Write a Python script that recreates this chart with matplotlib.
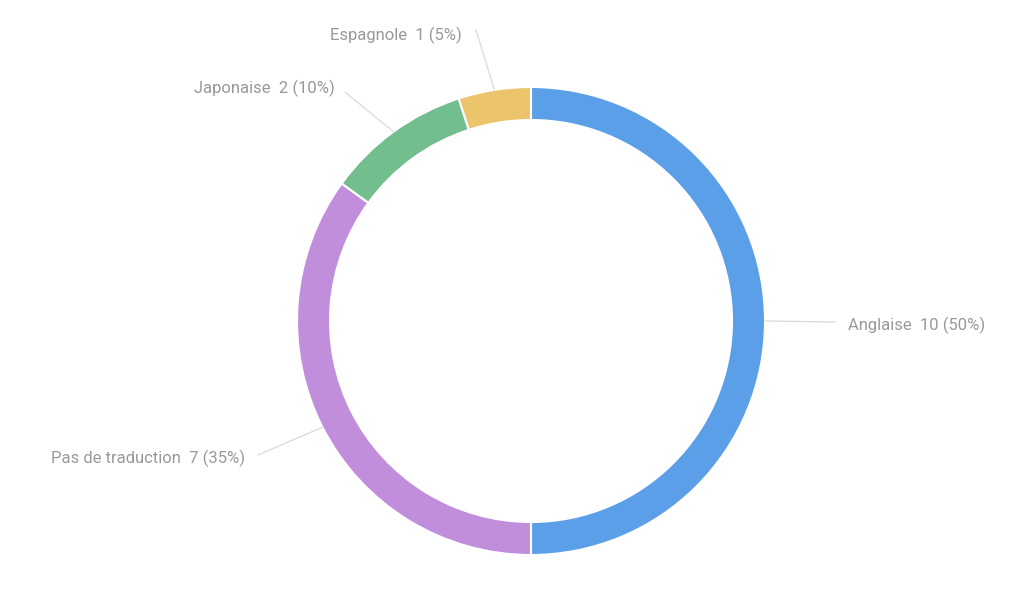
import matplotlib
matplotlib.use("Agg")
import matplotlib.pyplot as plt
import numpy as np

categories = ["Anglaise", "Pas de traduction", "Japonaise", "Espagnole"]
values = [10, 7, 2, 1]
colors = ["#5B9FE8", "#C08EDB", "#72BE8E", "#EBC46C"]

fig = plt.figure(figsize=(10.24, 6.08), dpi=100)
ax = fig.add_axes([0, 0, 1, 1])
ax.set_xlim(0, 1024); ax.set_ylim(0, 608); ax.set_aspect("equal"); ax.axis("off")

cx, cy, R, W = 531, 608 - 321, 234, 33
wedges, _ = ax.pie(values, colors=colors, startangle=90, counterclock=False,
                   radius=R, center=(cx, cy),
                   wedgeprops=dict(width=W, edgecolor="white", linewidth=1.5))
ax.set_xlim(0, 1024); ax.set_ylim(0, 608)

total = sum(values)
# label placement (text anchor in pixel coords, from top-left)
text_pos = [(848, 325, "left"), (245, 458, "right"), (335, 88, "right"), (462, 35, "right")]
line_end = [(835, 322), (258, 455), (345, 92), (476, 30)]
for w, cat, v, tp, le in zip(wedges, categories, values, text_pos, line_end):
    ang = np.deg2rad((w.theta1 + w.theta2) / 2)
    x0 = cx + R * np.cos(ang); y0 = cy + R * np.sin(ang)
    ax.plot([x0, le[0]], [y0, 608 - le[1]], color="#dddddd", lw=1)
    ax.text(tp[0], 608 - tp[1], f"{cat}  {v} ({v/total*100:.0f}%)", ha=tp[2], va="center",
            fontsize=12, color="#999999", family="Roboto")

fig.savefig("out.png", dpi=100, facecolor="white")
